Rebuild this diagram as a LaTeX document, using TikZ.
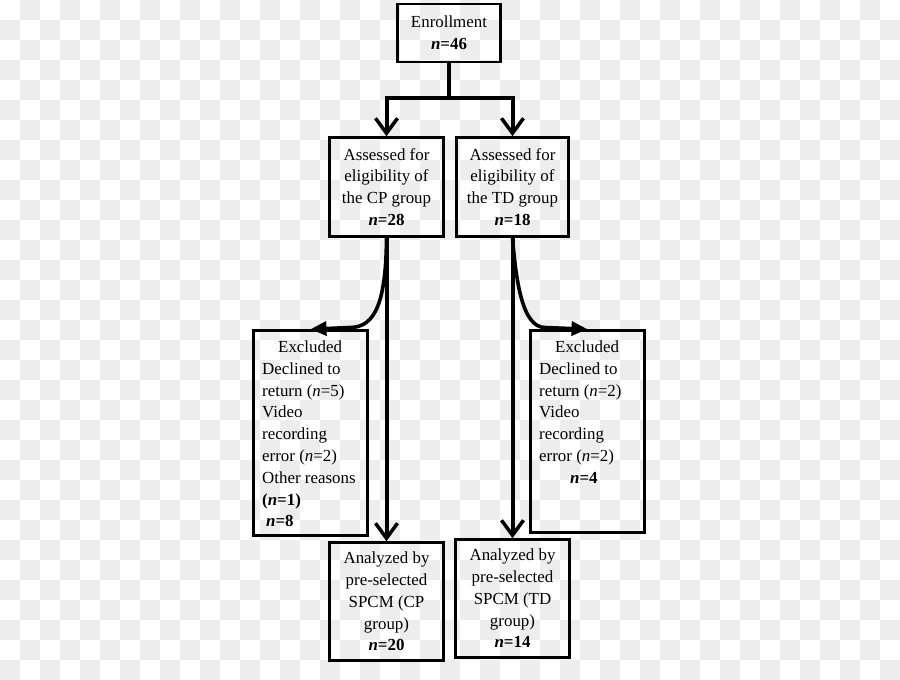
\documentclass[tikz,border=0pt]{standalone}
\usepackage{fontspec}
\setmainfont{Liberation Serif}
\usetikzlibrary{arrows.meta}
\definecolor{bgg}{HTML}{EDEDED}
\tikzset{
  box/.style={draw=black, line width=2.6pt, inner sep=0pt, align=center,
    font=\fontsize{16.9}{21.8}\selectfont},
  txt/.style={inner sep=0pt, align=left, anchor=north west,
    font=\fontsize{16.9}{21.8}\selectfont},
  flow/.style={line width=4pt, -{Straight Barb[length=15pt,width=22pt,line width=3.5pt]}},
  curvy/.style={line width=3.6pt, -{Triangle[length=16pt,width=14pt]}},
}
\newcommand{\nn}[1]{\textbf{\textit{n}=#1}}
\begin{document}
\begin{tikzpicture}[x=1pt,y=-1pt]
\useasboundingbox (0,0) rectangle (900,680);
\fill[white] (0,0) rectangle (900,680);
\foreach \i in {0,...,44}{\foreach \j in {0,...,33}{%
  \ifodd\numexpr\i+\j\relax \fill[bgg] (\i*20,\j*20) rectangle ++(20,20);\fi}}

\node[box, minimum width=103pt, minimum height=58pt] (enr) at (449,33)
  {Enrollment\\\nn{46}};
\node[box, minimum width=114pt, minimum height=99pt] (cp) at (386.5,187)
  {Assessed for\\eligibility of\\the CP group\\\nn{28}};
\node[box, minimum width=112pt, minimum height=99pt] (td) at (512.5,187)
  {Assessed for\\eligibility of\\the TD group\\\nn{18}};
\node[box, minimum width=114pt, minimum height=205pt] (exL) at (310.5,433) {};
\node[box, minimum width=114pt, minimum height=202pt] (exR) at (587.5,431.5) {};
\node[box, minimum width=114pt, minimum height=118pt] (anCP) at (386.5,601.5)
  {Analyzed by\\pre-selected\\SPCM (CP\\group)\\\nn{20}};
\node[box, minimum width=114pt, minimum height=118pt] (anTD) at (512.5,598.5)
  {Analyzed by\\pre-selected\\SPCM (TD\\group)\\\nn{14}};

\node[txt] (exLt) at (262,340.5)
  {\hspace*{16pt}Excluded\\Declined to\\return (\textit{n}=5)\\Video\\recording\\error (\textit{n}=2)\\Other reasons\\\textbf{(\textit{n}=1)}\\\hspace*{4pt}\nn{8}};
\node[txt] (exRt) at (539,340.5)
  {\hspace*{16pt}Excluded\\Declined to\\return (\textit{n}=2)\\Video\\recording\\error (\textit{n}=2)\\\hspace*{31pt}\nn{4}};

\coordinate (mid) at (449,98);
\draw[line width=4pt] (enr.south) -- (mid);
\draw[flow] (mid) -| (cp.north);
\draw[flow] (mid) -| (td.north);
\draw[flow] (cp.south) -- (anCP.north);
\draw[flow] (td.south) -- (anTD.north);
\draw[curvy] (cp.south) .. controls (386,300) and (376,327.5) .. (350,327.5) -- (exL.north);
\draw[curvy] (td.south) .. controls (516,280) and (522,327.5) .. (545,327.5) -- (exR.north);
\end{tikzpicture}
\end{document}
